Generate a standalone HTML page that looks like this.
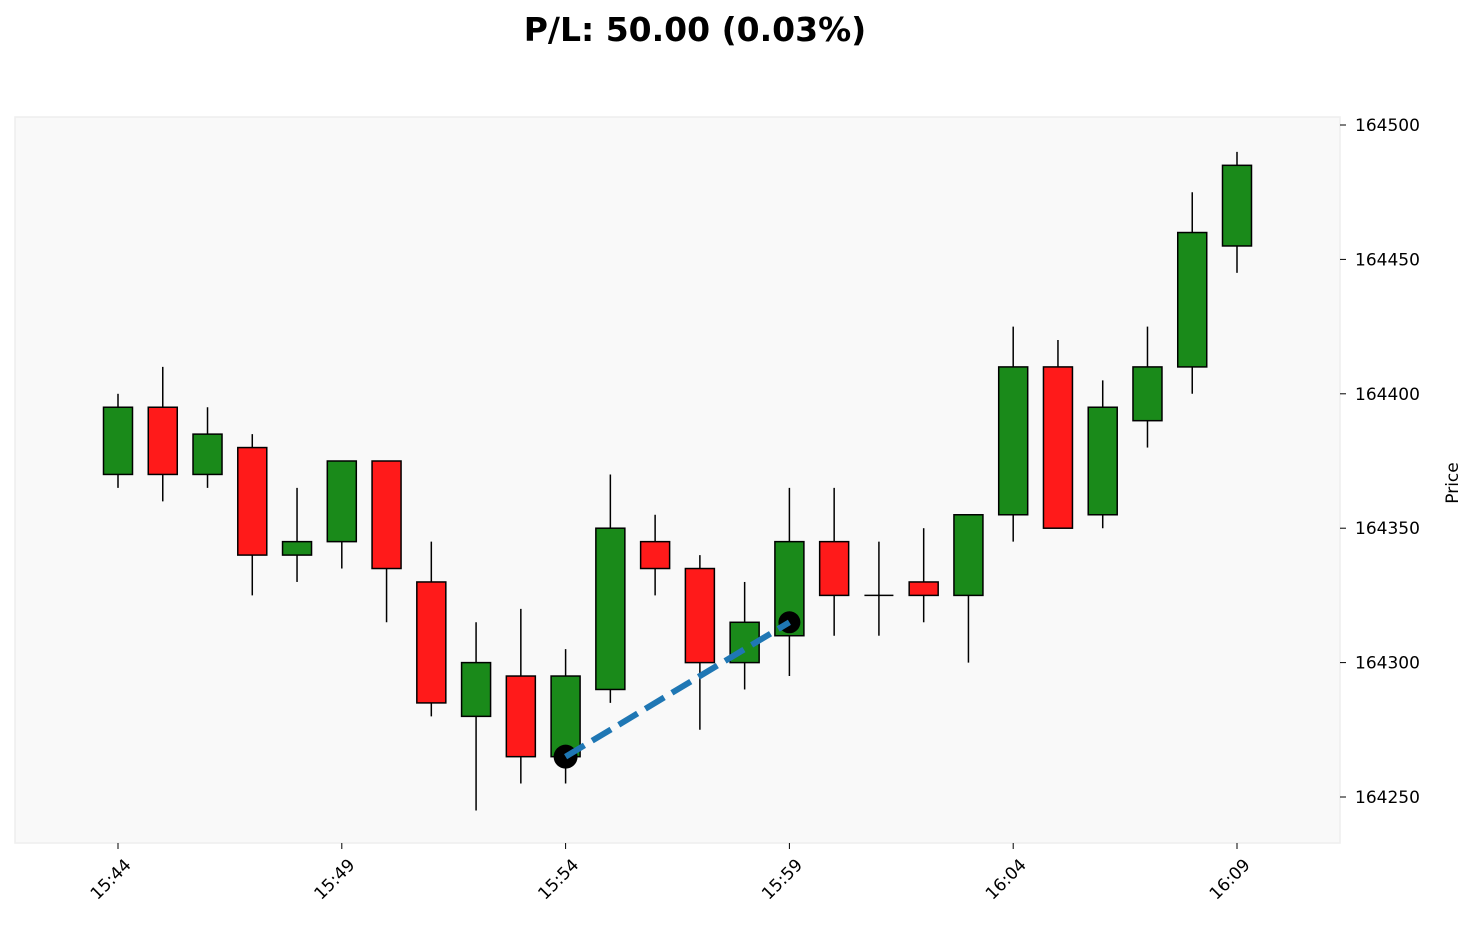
<!DOCTYPE html>
<html><head><meta charset="utf-8"><style>
body{margin:0;background:#fff;}
svg{display:block;font-family:"DejaVu Sans","Liberation Sans",sans-serif;}
</style></head><body>
<svg id="c" width="1477" height="929" xmlns="http://www.w3.org/2000/svg">
<text x="695" y="41" text-anchor="middle" font-size="33" font-weight="bold">P/L: 50.00 (0.03%)</text>
<rect x="15" y="117" width="1325" height="726" fill="#f9f9f9" stroke="#eeeeee" stroke-width="1.5"/>
<g id="g"></g>
<text transform="translate(1458,483) rotate(-90)" text-anchor="middle" font-size="17">Price</text>
</svg>
<script>
var d=[[164370,164400,164365,164395],[164395,164410,164360,164370],[164370,164395,164365,164385],[164380,164385,164325,164340],[164340,164365,164330,164345],[164345,164375,164335,164375],[164375,164375,164315,164335],[164330,164345,164280,164285],[164280,164315,164245,164300],[164295,164320,164255,164265],[164265,164305,164255,164295],[164290,164370,164285,164350],[164345,164355,164325,164335],[164335,164340,164275,164300],[164300,164330,164290,164315],[164310,164365,164295,164345],[164345,164365,164310,164325],[164325,164345,164310,164325],[164330,164350,164315,164325],[164325,164355,164300,164355],[164355,164425,164345,164410],[164410,164420,164350,164350],[164355,164405,164350,164395],[164390,164425,164380,164410],[164410,164475,164400,164460],[164455,164490,164445,164485]];
function Y(v){return 125+(164500-v)*2.688;}
function X(i){return 118+i*44.76;}
var s='';
d.forEach(function(c,i){var x=X(i),o=c[0],h=c[1],l=c[2],cl=c[3];
s+='<line x1="'+x+'" x2="'+x+'" y1="'+Y(h)+'" y2="'+Y(l)+'" stroke="#000" stroke-width="1.5"/>';
var t=Math.max(o,cl),b=Math.min(o,cl);
if(t==b){s+='<line x1="'+(x-14.5)+'" x2="'+(x+14.5)+'" y1="'+Y(t)+'" y2="'+Y(t)+'" stroke="#000" stroke-width="1.5"/>';}
else s+='<rect x="'+(x-14.5)+'" y="'+Y(t)+'" width="29" height="'+(Y(b)-Y(t))+'" fill="'+(cl>=o?'#1a8a1a':'#ff1a1a')+'" stroke="#000" stroke-width="1.5"/>';});
s+='<circle cx="'+X(10)+'" cy="'+Y(164265)+'" r="12" fill="#000"/><circle cx="'+X(15)+'" cy="'+Y(164315)+'" r="11" fill="#000"/>';
s+='<line x1="'+X(10)+'" y1="'+Y(164265)+'" x2="'+X(15)+'" y2="'+Y(164315)+'" stroke="#1f77b4" stroke-width="6" stroke-dasharray="22,9"/>';
for(var v=164250;v<=164500;v+=50){var y=Y(v);s+='<line x1="1340" x2="1346" y1="'+y+'" y2="'+y+'" stroke="#000"/><text x="1355" y="'+(y+6)+'" font-size="17">'+v+'</text>';}
var lab=['15:44','15:49','15:54','15:59','16:04','16:09'];
lab.forEach(function(t,k){var x=X(k*5);s+='<line x1="'+x+'" x2="'+x+'" y1="843" y2="849" stroke="#000"/><text transform="translate('+(x+14)+',866) rotate(-45)" text-anchor="end" font-size="17">'+t+'</text>';});
document.getElementById('g').innerHTML=s;
</script>
</body></html>
